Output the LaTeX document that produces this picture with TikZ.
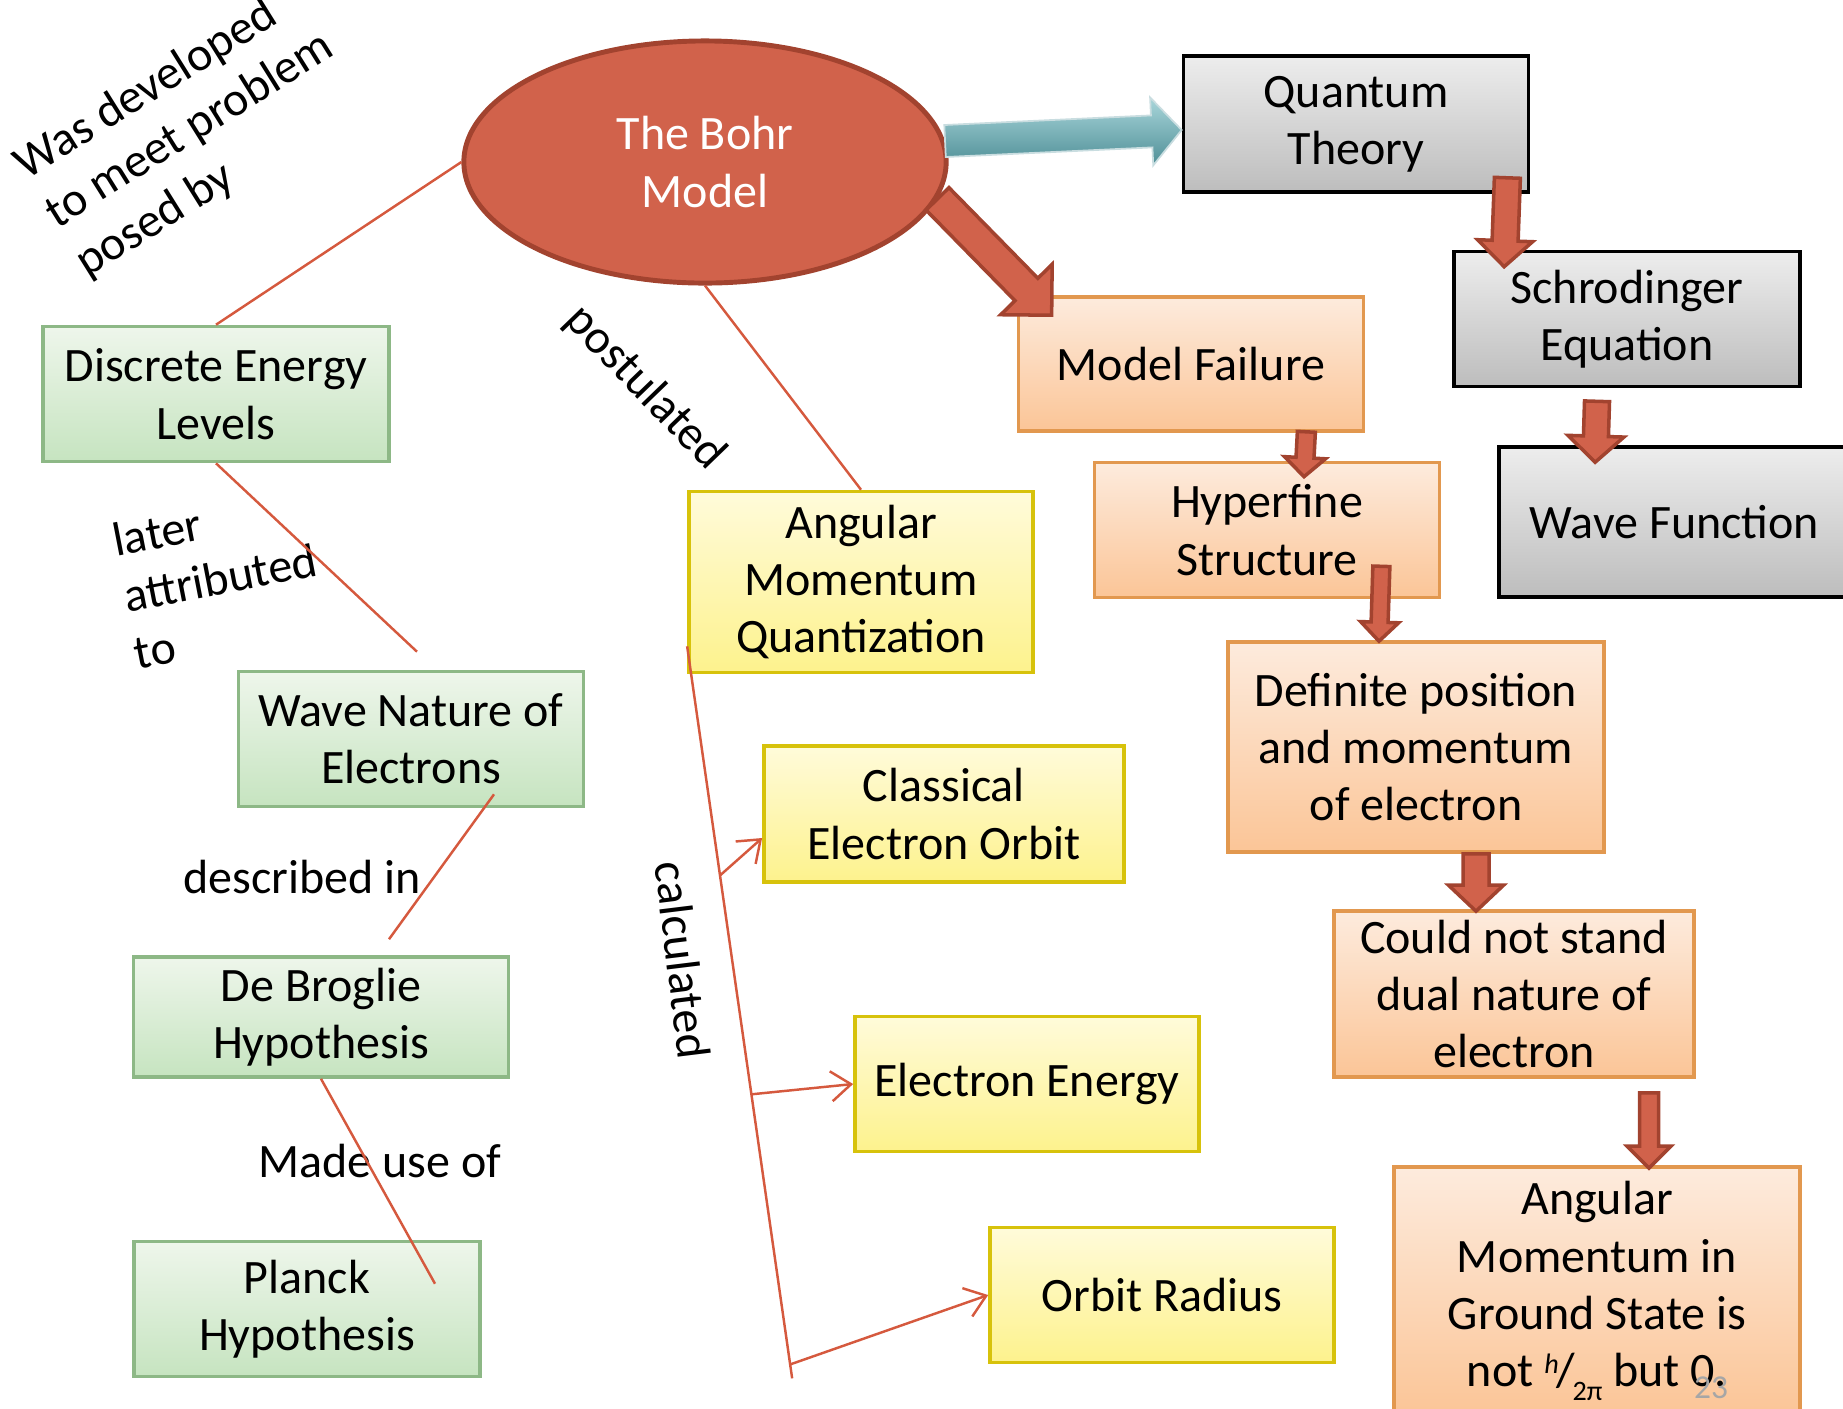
\documentclass[tikz,border=0pt]{standalone}
\usepackage{fontspec}
\setmainfont{Carlito}
\usetikzlibrary{positioning, calc, shapes.geometric, arrows.meta}

\definecolor{bohrred}{HTML}{D1624B}
\definecolor{bohrdark}{HTML}{A2432F}
\definecolor{linkred}{HTML}{D5593E}
\definecolor{greytop}{HTML}{EDEDED}
\definecolor{greybot}{HTML}{BDBDBD}
\definecolor{orangetop}{HTML}{FDEBDD}
\definecolor{orangebot}{HTML}{FBC597}
\definecolor{orangeedge}{HTML}{E2984F}
\definecolor{greentop}{HTML}{EEF6EB}
\definecolor{greenbot}{HTML}{C6E4C0}
\definecolor{greenedge}{HTML}{8DB886}
\definecolor{yellowtop}{HTML}{FFFBDA}
\definecolor{yellowbot}{HTML}{FDF28D}
\definecolor{yellowedge}{HTML}{D7C20B}
\definecolor{tealtop}{HTML}{A9D6DA}
\definecolor{tealbot}{HTML}{4F8F97}
\definecolor{tealedge}{HTML}{C9DDE0}
\definecolor{slidegrey}{HTML}{A6A6A6}

\tikzset{conceptbox/.style = {rectangle, draw, line width=1pt, align=center, inner sep=0pt}}
\tikzset{greybox/.style = {conceptbox, draw=black, top color=greytop, bottom color=greybot}}
\tikzset{orangebox/.style = {conceptbox, draw=orangeedge, top color=orangetop, bottom color=orangebot}}
\tikzset{greenbox/.style = {conceptbox, draw=greenedge, top color=greentop, bottom color=greenbot}}
\tikzset{yellowbox/.style = {conceptbox, draw=yellowedge, top color=yellowtop, bottom color=yellowbot}}
\tikzset{thinlink/.style = {draw=linkred, line width=0.7pt}}
\tikzset{linkarrow/.style = {thinlink, -{Straight Barb[length=2mm,width=3mm]}}}
\tikzset{blockarr/.style = {draw=bohrdark, fill=bohrred, line width=1pt, line join=miter}}
\tikzset{tealarr/.style = {draw=tealedge, line width=0.5pt, top color=tealtop, bottom color=tealbot}}
\tikzset{lbl/.style = {align=left}}

% [style]{tail}{tip}{half shaft}{half head}{head length}
\newcommand{\blockarrow}[6][blockarr]{%
    \coordinate (ba-a) at (#2);
    \coordinate (ba-b) at (#3);
    \coordinate (ba-c) at ($(ba-b)!#6!(ba-a)$);
    \draw[#1] ($(ba-a)!#4!90:(ba-b)$) -- ($(ba-c)!#4!90:(ba-b)$) -- ($(ba-c)!#5!90:(ba-b)$)
        -- (ba-b) -- ($(ba-c)!#5!-90:(ba-b)$) -- ($(ba-c)!#4!-90:(ba-b)$) -- ($(ba-a)!#4!-90:(ba-b)$) -- cycle;
}

\begin{document}
\begin{tikzpicture}[x=0.01cm, y=-0.01cm, every node/.style={font=\fontsize{13.65}{16.3}\selectfont}]
    \useasboundingbox (0,0) rectangle (1843,1408);
    \clip (0,0) rectangle (1843,1408);

    \node [ellipse, draw=bohrdark, line width=1.4pt, fill=bohrred, minimum width=48.2mm, minimum height=24.2mm,
           text=white, align=center] (bohr) at (705,162) {The Bohr\\Model};

    \node [greybox, minimum width=34.5mm, minimum height=13.6mm] (quantum) at (1356,124) {Quantum\\Theory};
    \node [greybox, minimum width=34.6mm, minimum height=13.5mm] (schro) at (1627,319) {Schrodinger\\Equation};
    \node [greybox, minimum width=35.1mm, minimum height=15mm] (wavefn) at (1674.5,522) {Wave Function};

    \node [orangebox, minimum width=34.5mm, minimum height=13.4mm] (mfail) at (1191,364) {Model Failure};
    \node [orangebox, minimum width=34.5mm, minimum height=13.5mm] (hyper) at (1267,530) {Hyperfine\\Structure};
    \node [orangebox, minimum width=37.6mm, minimum height=21mm] (defpos) at (1416,747) {Definite position\\and momentum\\of electron};
    \node [orangebox, minimum width=36mm, minimum height=16.6mm] (dual) at (1514,994) {Could not stand\\dual nature of\\electron};
    \node [orangebox, minimum width=40.6mm, minimum height=24.8mm] (amground) at (1597,1291)
        {Angular\\Momentum in\\Ground State is\\not \raisebox{0.6ex}{\footnotesize\itshape h}\kern-0.05em/\kern-0.05em\raisebox{-0.6ex}{\footnotesize 2π} but 0.};

    \node [greenbox, minimum width=34.6mm, minimum height=13.5mm] (disc) at (216,394) {Discrete Energy\\Levels};
    \node [greenbox, minimum width=34.5mm, minimum height=13.5mm] (wavenat) at (411,739) {Wave Nature of\\Electrons};
    \node [greenbox, minimum width=37.5mm, minimum height=12mm] (debroglie) at (321,1017) {De Broglie\\Hypothesis};
    \node [greenbox, minimum width=34.6mm, minimum height=13.5mm] (planck) at (307,1309) {Planck\\Hypothesis};

    \node [yellowbox, minimum width=34.4mm, minimum height=18.1mm] (amq) at (861,582) {Angular\\Momentum\\Quantization};
    \node [yellowbox, minimum width=36mm, minimum height=13.6mm] (classical) at (944,814) {Classical\\Electron Orbit};
    \node [yellowbox, minimum width=34.4mm, minimum height=13.5mm] (eenergy) at (1027,1084) {Electron Energy};
    \node [yellowbox, minimum width=34.4mm, minimum height=13.5mm] (oradius) at (1162,1295) {Orbit Radius};

    \node [lbl, rotate=32] (wasdev) at (190,131) {Was developed\\to meet problem\\posed by};
    \node [rotate=-46] (postul) at (645,388) {postulated};
    \node [lbl, rotate=11] (later) at (220,578) {later\\attributed\\to};
    \node (descr) at (302,877) {described in};
    \node (madeuse) at (380,1161) {Made use of};
    \node [rotate=-83] (calcd) at (683,960) {calculated};

    \coordinate (wn-in) at ($(wavenat.north)+(6,-18)$);
    \coordinate (wn-out) at ($(wavenat.south)+(83,-14)$);
    \coordinate (db-in) at ($(debroglie.north)+(68,-16)$);
    \coordinate (pl-in) at ($(planck.north)+(128,44)$);
    \draw [thinlink] (bohr.west) -- (disc.north);
    \draw [thinlink] (bohr.south) -- (amq.north);
    \draw [thinlink] (disc.south) -- (wn-in);
    \draw [thinlink] (wn-out) -- (db-in);
    \draw [thinlink] (debroglie.south) -- (pl-in);

    \coordinate (ctop) at ($(amq.south west)+(0,-28)$);
    \coordinate (cbot) at ($(ctop)+(105,732)$);
    \draw [thinlink] (ctop) -- (cbot);
    \draw [linkarrow] ($(ctop)!0.313!(cbot)$) -- ($(classical.west)+(0,24)$);
    \draw [linkarrow] ($(ctop)!0.612!(cbot)$) -- (eenergy.west);
    \draw [linkarrow] ($(ctop)!0.981!(cbot)$) -- (oradius.west);

    \blockarrow[tealarr]{bohr.5}{$(quantum.west)+(0,6)$}{1.6mm}{3.4mm}{3mm}
    \blockarrow{bohr.-9}{$(mfail.north west)+(35,20)$}{1.6mm}{3.6mm}{3.6mm}
    \blockarrow{$(quantum.south east)+(-23,-16)$}{$(schro.north west)+(52,17)$}{1.3mm}{2.75mm}{2.6mm}
    \blockarrow{$(schro.south)+(-30,13)$}{$(wavefn.north west)+(98,17)$}{1.25mm}{2.8mm}{2.6mm}
    \blockarrow{$(mfail.south east)+(-59,-1)$}{$(hyper.north)+(37,16)$}{0.9mm}{2.05mm}{1.9mm}
    \blockarrow{$(hyper.south east)+(-60,-33)$}{$(defpos.north)+(-37,1)$}{0.85mm}{1.9mm}{1.9mm}
    \blockarrow{$(defpos.south)+(60,0)$}{$(dual.north)+(-38,2)$}{1.3mm}{2.75mm}{2.6mm}
    \blockarrow{$(dual.south)+(135,14)$}{$(amground.north)+(52,3)$}{0.95mm}{2.2mm}{2.2mm}

    \node [text=slidegrey, font=\fontsize{9.5}{11}\selectfont] (slidenum) at (1711,1388) {23};
\end{tikzpicture}
\end{document}
